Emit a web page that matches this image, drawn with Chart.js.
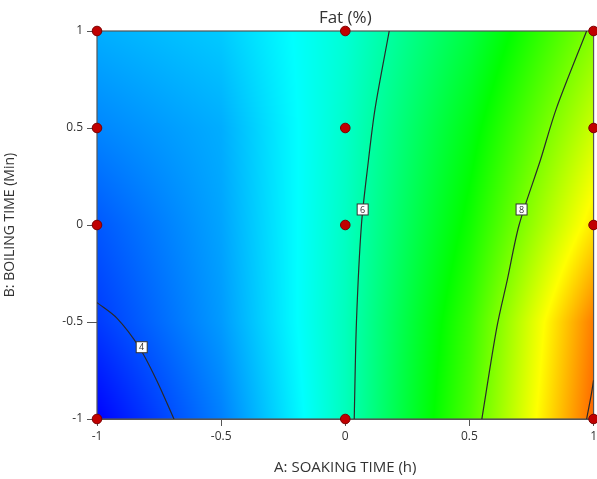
<!DOCTYPE html>
<html>
<head>
<meta charset="utf-8">
<script src="https://cdn.jsdelivr.net/npm/chart.js@4.4.1/dist/chart.umd.min.js"></script>
<style>
html,body{margin:0;padding:0;background:#fff;overflow:hidden;}
</style>
</head>
<body>
<canvas id="myChart" width="600" height="479"></canvas>
<script>
// coded factor levels of the response surface grid
const aLevels = [-1, -0.5, 0, 0.5, 1];
const bLevels = [-1, -0.5, 0, 0.5, 1];
// Fat (%), rows go B = -1 .. 1, columns A = -1 .. 1
const fatGrid = [
    [3.51, 4.45, 5.87, 7.74, 10.08],
    [3.93, 4.65, 5.87, 7.58, 9.93],
    [4.15, 4.72, 5.82, 7.30, 9.17],
    [4.50, 4.79, 5.77, 7.05, 8.64],
    [4.80, 5.01, 5.69, 6.73, 8.13]
];
// colour scale
const colorValues = [3.5, 5.4, 7.2, 9.0, 10.8];
const colorRGB = [[0,0,255],[0,255,255],[0,255,0],[255,255,0],[255,0,0]];

// contour lines
const contour4A = [-1, -0.92, -0.83, -0.76, -0.69];
const contour4B = [-0.40, -0.48, -0.63, -0.80, -1];
const contour6A = [0.036, 0.045, 0.065, 0.093, 0.12, 0.177];
const contour6B = [-1, -0.5, 0, 0.33, 0.6, 1];
const contour8A = [0.55, 0.61, 0.653, 0.70, 0.786, 0.85, 0.972];
const contour8B = [-1, -0.53, -0.28, 0, 0.335, 0.6, 1];
const contour10A = [0.972, 0.99, 1.0];
const contour10B = [-1, -0.88, -0.8];

const contourLabels = ['4', '6', '8'];
const labelA = [-0.82, 0.07, 0.71];
const labelB = [-0.63, 0.08, 0.08];

// design points
const designA = [-1, 0, 1, -1, 0, 1, -1, 0, 1, -1, 0, 1];
const designB = [1, 1, 1, 0.5, 0.5, 0.5, 0, 0, 0, -1, -1, -1];

const xTicks = [-1, -0.5, 0, 0.5, 1];
const yTicks = [-1, -0.5, 0, 0.5, 1];

function toPoints(xs, ys){
    return xs.map(function(v, i){ return {x: v, y: ys[i]}; });
}

function findCell(levels, v){
    let i = 0;
    while (i < levels.length - 2 && v > levels[i+1]) i++;
    let t = (v - levels[i]) / (levels[i+1] - levels[i]);
    t = Math.max(0, Math.min(1, t));
    return [i, t];
}

function fatAt(a, b){
    const ca = findCell(aLevels, a);
    const cb = findCell(bLevels, b);
    const i = ca[0], s = ca[1], j = cb[0], t = cb[1];
    const v00 = fatGrid[j][i], v01 = fatGrid[j][i+1];
    const v10 = fatGrid[j+1][i], v11 = fatGrid[j+1][i+1];
    return (v00*(1-s) + v01*s)*(1-t) + (v10*(1-s) + v11*s)*t;
}

function colorFor(v){
    const c = findCell(colorValues, v);
    const lo = colorRGB[c[0]], hi = colorRGB[c[0]+1], t = c[1];
    return [lo[0] + (hi[0]-lo[0])*t, lo[1] + (hi[1]-lo[1])*t, lo[2] + (hi[2]-lo[2])*t];
}

const surfacePlugin = {
    id: 'surface',
    beforeDatasetsDraw(chart){
        const area = chart.chartArea;
        const xs = chart.scales.x, ys = chart.scales.y;
        const w = Math.round(area.right - area.left), h = Math.round(area.bottom - area.top);
        const off = document.createElement('canvas');
        off.width = w; off.height = h;
        const octx = off.getContext('2d');
        const img = octx.createImageData(w, h);
        for (let py = 0; py < h; py++){
            const b = ys.getValueForPixel(area.top + py + 0.5);
            for (let px = 0; px < w; px++){
                const a = xs.getValueForPixel(area.left + px + 0.5);
                const col = colorFor(fatAt(a, b));
                const k = (py*w + px)*4;
                img.data[k] = col[0]; img.data[k+1] = col[1]; img.data[k+2] = col[2]; img.data[k+3] = 255;
            }
        }
        octx.putImageData(img, 0, 0);
        const ctx = chart.ctx;
        ctx.save();
        ctx.drawImage(off, area.left, area.top);
        ctx.strokeStyle = '#555';
        ctx.lineWidth = 1.2;
        ctx.strokeRect(area.left, area.top, area.right - area.left, area.bottom - area.top);
        ctx.restore();
    },
    afterDatasetsDraw(chart){
        const ctx = chart.ctx;
        const xs = chart.scales.x, ys = chart.scales.y;
        ctx.save();
        ctx.font = '9px "Open Sans"';
        ctx.textAlign = 'center';
        ctx.textBaseline = 'middle';
        for (let i = 0; i < contourLabels.length; i++){
            const px = xs.getPixelForValue(labelA[i]);
            const py = ys.getPixelForValue(labelB[i]);
            ctx.fillStyle = '#fff';
            ctx.fillRect(px - 5.5, py - 5.5, 11, 11);
            ctx.strokeStyle = '#333';
            ctx.lineWidth = 1;
            ctx.strokeRect(px - 5.5, py - 5.5, 11, 11);
            ctx.fillStyle = '#333';
            ctx.fillText(contourLabels[i], px, py + 0.5);
        }
        // title centred over the plot
        const area = chart.chartArea;
        ctx.font = '17px "Open Sans"';
        ctx.fillStyle = '#333';
        ctx.fillText('Fat (%)', (area.left + area.right)/2, 18);
        ctx.restore();
    }
};

function contourSet(xs, ys){
    return {
        data: toPoints(xs, ys),
        showLine: true,
        borderColor: '#2a2a2a',
        borderWidth: 1.2,
        pointRadius: 0,
        tension: 0.3,
        order: 2
    };
}

function plainLabel(v){ return String(v); }

let ctx = document.getElementById('myChart').getContext('2d');
let myChart = new Chart(ctx, {
    type: 'scatter',
    data: {
        datasets: [
            {
                data: toPoints(designA, designB),
                backgroundColor: '#c00000',
                borderColor: '#7a0000',
                borderWidth: 1,
                pointRadius: 4.8,
                clip: false,
                order: 0
            },
            contourSet(contour4A, contour4B),
            contourSet(contour6A, contour6B),
            contourSet(contour8A, contour8B),
            contourSet(contour10A, contour10B)
        ]
    },
    options: {
        responsive: false,
        animation: false,
        layout: {padding: {top: 31, right: 0, left: 0, bottom: 0}},
        plugins: {legend: {display: false}, tooltip: {enabled: false}, title: {display: false}},
        scales: {
            x: {
                type: 'linear', min: -1, max: 1,
                afterBuildTicks: function(scale){ scale.ticks = xTicks.map(function(v){ return {value: v}; }); },
                afterFit: function(scale){ scale.height = 60; },
                grid: {drawOnChartArea: false, drawTicks: true, tickLength: 7, tickColor: '#555'},
                border: {display: true, color: '#555'},
                ticks: {color: '#333', font: {family: 'Open Sans', size: 12}, padding: 3, maxRotation: 0, callback: plainLabel},
                title: {display: true, text: 'A: SOAKING TIME (h)', color: '#333', font: {family: 'Open Sans', size: 15}, padding: {top: 4, bottom: 2}}
            },
            y: {
                type: 'linear', min: -1, max: 1,
                afterBuildTicks: function(scale){ scale.ticks = yTicks.map(function(v){ return {value: v}; }); },
                afterFit: function(scale){ scale.width = 97; },
                grid: {drawOnChartArea: false, drawTicks: true, tickLength: 10, tickColor: '#555'},
                border: {display: true, color: '#555'},
                ticks: {color: '#333', font: {family: 'Open Sans', size: 12}, padding: 4, callback: plainLabel},
                title: {display: true, text: 'B: BOILING TIME (Min)', color: '#333', font: {family: 'Open Sans', size: 14}, padding: {top: 2, bottom: 2}}
            }
        }
    },
    plugins: [surfacePlugin]
});
</script>
</body>
</html>
